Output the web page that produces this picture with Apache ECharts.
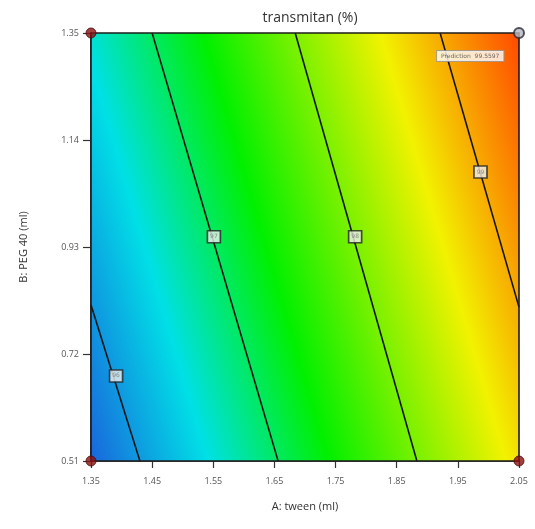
<!DOCTYPE html>
<html>
<head>
<meta charset="utf-8">
<script src="https://cdn.jsdelivr.net/npm/echarts@6/dist/echarts.min.js"></script>
<style>
  html, body { margin: 0; padding: 0; background: #ffffff; }
  #chart { width: 535px; height: 529px; }
</style>
</head>
<body>
<div id="chart"></div>
<script>
// Factor ranges and tick labels
const aTicks = [1.35, 1.45, 1.55, 1.65, 1.75, 1.85, 1.95, 2.05];
const bTicks = [0.51, 0.72, 0.93, 1.14, 1.35];

// Contour levels of the response and their end points (A, B) on the plot border
const contourLevels = [96, 97, 98, 99];
const contour96 = [[1.35, 0.816], [1.430, 0.51]];
const contour97 = [[1.450, 1.35], [1.656, 0.51]];
const contour98 = [[1.684, 1.35], [1.883, 0.51]];
const contour99 = [[1.921, 1.35], [2.05, 0.812]];
const contourLines = [contour96, contour97, contour98, contour99];

// Where each level's label box sits
const contourLabelPos = [[1.391, 0.677], [1.551, 0.950], [1.782, 0.950], [1.987, 1.077]];

// Design points and the prediction flag
const designPoints = [[1.35, 0.51], [1.35, 1.35], [2.05, 0.51]];
const predictionPoint = [2.05, 1.35];
const predictionValue = 99.5597;

// Colour ramp: response value at which each colour is reached
const rampValues = [95.65, 96.5, 97.35, 98.6, 99.5597];
const rampColors = ['#1a62dc', '#00e0e6', '#00f000', '#f2f200', '#ff4c00'];

const chart = echarts.init(document.getElementById('chart'));

// Shaded response surface: one rectangle filled with a gradient running
// perpendicular to the contour lines, positioned from the contours themselves.
function renderSurface(params, api) {
  const tl = api.coord([aTicks[0], bTicks[bTicks.length - 1]]);
  const br = api.coord([aTicks[aTicks.length - 1], bTicks[0]]);
  const p1 = api.coord(contour97[0]);
  const p2 = api.coord(contour97[1]);
  let nx = p2[1] - p1[1];
  let ny = -(p2[0] - p1[0]);
  const len = Math.hypot(nx, ny);
  nx /= len; ny /= len;
  const q = api.coord(contour98[0]);
  if ((q[0] - p1[0]) * nx + (q[1] - p1[1]) * ny < 0) { nx = -nx; ny = -ny; }
  const ox = tl[0], oy = tl[1];
  const s = contourLines.map(function (ln) {
    const a = api.coord(ln[0]), b = api.coord(ln[1]);
    const mx = (a[0] + b[0]) / 2, my = (a[1] + b[1]) / 2;
    return (mx - ox) * nx + (my - oy) * ny;
  });
  // least squares: level = alpha + beta * s
  const n = s.length;
  let sm = 0, vm = 0;
  for (let i = 0; i < n; i++) { sm += s[i]; vm += contourLevels[i]; }
  sm /= n; vm /= n;
  let num = 0, den = 0;
  for (let i = 0; i < n; i++) {
    num += (s[i] - sm) * (contourLevels[i] - vm);
    den += (s[i] - sm) * (s[i] - sm);
  }
  const beta = num / den;
  const alpha = vm - beta * sm;
  const vLo = rampValues[0], vHi = rampValues[rampValues.length - 1];
  const s0 = (vLo - alpha) / beta;
  const s1 = (vHi - alpha) / beta;
  const stops = rampColors.map(function (c, i) {
    return { offset: (rampValues[i] - vLo) / (vHi - vLo), color: c };
  });
  const fill = new echarts.graphic.LinearGradient(
    ox + s0 * nx, oy + s0 * ny, ox + s1 * nx, oy + s1 * ny, stops, true
  );
  return {
    type: 'rect',
    shape: { x: tl[0], y: tl[1], width: br[0] - tl[0], height: br[1] - tl[1] },
    style: { fill: fill }
  };
}

function renderFrame(params, api) {
  const tl = api.coord([aTicks[0], bTicks[bTicks.length - 1]]);
  const br = api.coord([aTicks[aTicks.length - 1], bTicks[0]]);
  return {
    type: 'rect',
    shape: { x: tl[0], y: tl[1], width: br[0] - tl[0], height: br[1] - tl[1] },
    style: { fill: null, stroke: '#1c1c1c', lineWidth: 1.6 }
  };
}

const series = [
  { type: 'custom', renderItem: renderSurface, data: [0], silent: true, z: 1 }
];

contourLines.forEach(function (ln, i) {
  series.push({
    type: 'line',
    name: String(contourLevels[i]),
    data: ln,
    symbol: 'none',
    lineStyle: { color: '#141414', width: 1.6 },
    silent: true,
    z: 3
  });
});

series.push({ type: 'custom', renderItem: renderFrame, data: [0], silent: true, z: 4 });

series.push({
  type: 'scatter',
  data: contourLabelPos.map(function (p, i) { return [p[0], p[1], contourLevels[i]]; }),
  symbol: 'rect',
  symbolSize: [13, 12],
  itemStyle: { color: '#eeeeee', borderColor: '#222222', borderWidth: 1.6 },
  label: {
    show: true,
    position: 'inside',
    formatter: function (p) { return p.value[2]; },
    fontSize: 6,
    color: '#777777',
    fontFamily: 'DejaVu Sans'
  },
  silent: true,
  z: 5
});

series.push({
  type: 'scatter',
  data: designPoints,
  symbol: 'circle',
  symbolSize: 10,
  itemStyle: { color: '#8a1010', borderColor: '#4a0808', borderWidth: 1 },
  silent: true,
  z: 6
});

series.push({
  type: 'scatter',
  data: [predictionPoint],
  symbol: 'circle',
  symbolSize: 10,
  itemStyle: { color: '#b8b8c0', borderColor: '#2a2a3a', borderWidth: 2 },
  label: {
    show: true,
    position: [-76, 24],
    align: 'left',
    verticalAlign: 'top',
    formatter: 'Prediction  ' + predictionValue,
    fontSize: 6,
    color: '#444444',
    backgroundColor: '#ffffff',
    borderColor: '#999999',
    borderWidth: 1,
    padding: [2, 4, 2, 4],
    fontFamily: 'DejaVu Sans'
  },
  silent: true,
  z: 7
});

const option = {
  animation: false,
  backgroundColor: '#ffffff',
  title: {
    text: 'transmitan (%)',
    left: 305,
    top: 6,
    textAlign: 'center',
    textStyle: { fontSize: 14, fontWeight: 'normal', color: '#333333', fontFamily: 'Open Sans' }
  },
  grid: { left: 91, top: 33, width: 428, height: 428 },
  xAxis: {
    type: 'value',
    min: aTicks[0],
    max: aTicks[aTicks.length - 1],
    name: 'A: tween (ml)',
    nameLocation: 'middle',
    nameGap: 40,
    nameTextStyle: { fontSize: 11, color: '#333333', fontFamily: 'Open Sans' },
    axisLine: { show: true, lineStyle: { color: '#1c1c1c', width: 1.6 } },
    axisTick: { show: true, length: 7, customValues: aTicks, lineStyle: { color: '#333333', width: 1.2 } },
    axisLabel: {
      customValues: aTicks,
      formatter: function (v) { return v.toFixed(2); },
      fontSize: 9,
      color: '#555555',
      margin: 16,
      fontFamily: 'Open Sans'
    },
    splitLine: { show: false }
  },
  yAxis: {
    type: 'value',
    min: bTicks[0],
    max: bTicks[bTicks.length - 1],
    name: 'B: PEG 40 (ml)',
    nameLocation: 'middle',
    nameGap: 62,
    nameTextStyle: { fontSize: 11, color: '#333333', fontFamily: 'Open Sans' },
    axisLine: { show: true, lineStyle: { color: '#1c1c1c', width: 1.6 } },
    axisTick: { show: true, length: 8, customValues: bTicks, lineStyle: { color: '#333333', width: 1.2 } },
    axisLabel: {
      customValues: bTicks,
      formatter: function (v) { return v.toFixed(2); },
      fontSize: 9,
      color: '#555555',
      margin: 12,
      fontFamily: 'Open Sans'
    },
    splitLine: { show: false }
  },
  series: series
};

chart.setOption(option);
</script>
</body>
</html>
